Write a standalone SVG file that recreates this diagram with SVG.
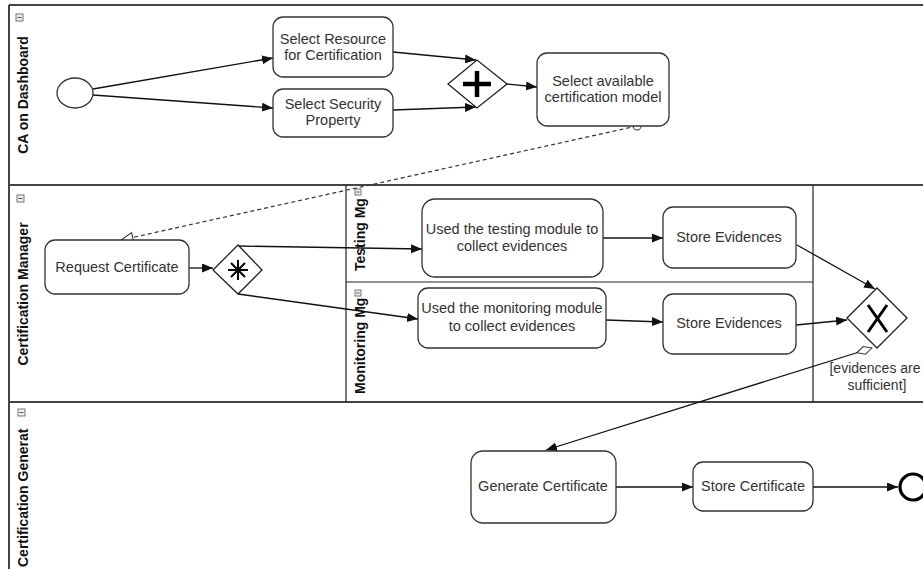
<svg xmlns="http://www.w3.org/2000/svg" width="923" height="569" viewBox="0 0 923 569">
<style>
.lane{stroke:#444;stroke-width:2;fill:none}
.sub{stroke:#222;stroke-width:1.2;fill:none}
.task{fill:#fff;stroke:#333;stroke-width:1.3}
.gw{fill:#fff;stroke:#222;stroke-width:1.3}
.t{font-family:"Liberation Sans",Arial,sans-serif;font-size:14.5px;fill:#333;text-anchor:middle}
.lbl{font-family:"Liberation Sans",Arial,sans-serif;font-size:14px;font-weight:bold;fill:#111}
.flow{stroke:#111;stroke-width:1.3;fill:none;marker-end:url(#arr)}
.icon{fill:#eee;stroke:#777;stroke-width:1}
</style>
<defs>
<marker id="arr" markerUnits="userSpaceOnUse" markerWidth="12" markerHeight="10" refX="11" refY="4.5" orient="auto"><path d="M0,0 L11,4.5 L0,9 z" fill="#111"/></marker>
<marker id="open" markerUnits="userSpaceOnUse" markerWidth="14" markerHeight="12" refX="13" refY="5.5" orient="auto"><path d="M1,0.5 L13,5.5 L1,10.5 z" fill="#fff" stroke="#333" stroke-width="1"/></marker>
<marker id="circ" markerUnits="userSpaceOnUse" markerWidth="12" markerHeight="12" refX="6" refY="6" orient="auto"><circle cx="6" cy="6" r="4" fill="#fff" stroke="#333" stroke-width="1"/></marker>
<marker id="dia" markerUnits="userSpaceOnUse" markerWidth="18" markerHeight="10" refX="1" refY="4.5" orient="auto"><path d="M1,4.5 L9,0.5 L17,4.5 L9,8.5 z" fill="#fff" stroke="#333" stroke-width="1"/></marker>
</defs>

<g id="pool">
<line class="lane" x1="9" y1="5" x2="923" y2="5"/>
<line class="lane" x1="9" y1="5" x2="9" y2="569"/>
<line class="lane" x1="9" y1="185" x2="923" y2="185"/>
<line class="lane" x1="9" y1="402" x2="923" y2="402"/>
<line class="sub" x1="346" y1="185" x2="346" y2="402"/>
<line class="sub" x1="813" y1="185" x2="813" y2="402"/>
<line class="sub" x1="346" y1="282" x2="813" y2="282"/>
</g>

<g id="lane-ca">
<rect class="icon" x="16" y="14" width="7" height="7"/><line x1="17.5" y1="17.5" x2="21.5" y2="17.5" stroke="#555"/>
<text class="lbl" transform="translate(28,95) rotate(-90)" text-anchor="middle">CA on Dashboard</text>
</g>
<g id="lane-cm">
<rect class="icon" x="17" y="195" width="7" height="7"/><line x1="18.5" y1="198.5" x2="22.5" y2="198.5" stroke="#555"/>
<text class="lbl" transform="translate(28,294) rotate(-90)" text-anchor="middle">Certification Manager</text>
</g>
<g id="lane-testing">
<text class="lbl" transform="translate(365,271) rotate(-90)">Testing Mg</text>
<rect class="icon" x="355" y="189" width="6" height="6"/><line x1="356.5" y1="192" x2="359.5" y2="192" stroke="#555"/>
</g>
<g id="lane-monitoring">
<text class="lbl" transform="translate(365,394) rotate(-90)">Monitoring Mg</text>
<rect class="icon" x="355" y="290" width="6" height="6"/><line x1="356.5" y1="293" x2="359.5" y2="293" stroke="#555"/>
</g>
<g id="lane-cg">
<text class="lbl" transform="translate(28,567) rotate(-90)">Certification Generat</text>
<rect class="icon" x="18" y="409" width="7" height="7"/><line x1="19.5" y1="412.5" x2="23.5" y2="412.5" stroke="#555"/>
</g>

<g id="connectors">
<line class="flow" x1="93" y1="89" x2="273" y2="58"/>
<line class="flow" x1="93" y1="95" x2="273" y2="108"/>
<line class="flow" x1="393" y1="52" x2="476" y2="60"/>
<line class="flow" x1="393" y1="110" x2="476" y2="107"/>
<line class="flow" x1="507" y1="84" x2="537" y2="87"/>
<line x1="637" y1="126" x2="121" y2="240" stroke="#333" stroke-width="1.2" stroke-dasharray="4,3" fill="none" marker-start="url(#circ)" marker-end="url(#open)"/>
<line class="flow" x1="189" y1="268" x2="213" y2="268"/>
<line class="flow" x1="238" y1="246" x2="422" y2="249"/>
<line class="flow" x1="238" y1="294" x2="418" y2="319"/>
<line class="flow" x1="603" y1="238" x2="663" y2="238"/>
<line class="flow" x1="606" y1="320" x2="663" y2="322"/>
<line class="flow" x1="797" y1="245" x2="875" y2="289"/>
<line class="flow" x1="796" y1="325" x2="847" y2="320"/>
<line class="flow" x1="872" y1="348" x2="546" y2="450" marker-start="url(#dia)"/>
<line class="flow" x1="616" y1="487" x2="693" y2="487"/>
<line class="flow" x1="813" y1="487" x2="898" y2="487"/>
</g>

<g id="start"><ellipse cx="75" cy="93" rx="18" ry="15" fill="#fff" stroke="#333" stroke-width="1.3"/></g>

<g id="task-resource">
<rect class="task" x="273" y="17" width="120" height="60" rx="10"/>
<text class="t" x="333" y="44">Select Resource</text>
<text class="t" x="333" y="60">for Certification</text>
</g>
<g id="task-property">
<rect class="task" x="273" y="89" width="120" height="48" rx="10"/>
<text class="t" x="333" y="109">Select Security</text>
<text class="t" x="333" y="125">Property</text>
</g>
<g id="gw-parallel">
<path class="gw" d="M448,84 L477,60 L507,84 L477,108 z"/>
<path d="M463,84 H491 M477,71 V97" stroke="#000" stroke-width="4.5"/>
</g>
<g id="task-model">
<rect class="task" x="537" y="53" width="132" height="73" rx="10"/>
<text class="t" x="603" y="86">Select available</text>
<text class="t" x="603" y="102">certification model</text>
</g>
<g id="task-request">
<rect class="task" x="45" y="240" width="144" height="54" rx="10"/>
<text class="t" x="117" y="272">Request Certificate</text>
</g>
<g id="gw-complex">
<path class="gw" d="M213,270 L238,245 L262,270 L238,294 z"/>
<path d="M228,270 H248 M238,260 V280 M231,263 L245,277 M245,263 L231,277" stroke="#000" stroke-width="2"/>
</g>
<g id="task-testing">
<rect class="task" x="422" y="199" width="181" height="78" rx="13"/>
<text class="t" x="512" y="234">Used the testing module to</text>
<text class="t" x="512" y="251">collect evidences</text>
</g>
<g id="task-monitoring">
<rect class="task" x="418" y="288" width="188" height="60" rx="10"/>
<text class="t" x="512" y="313">Used the monitoring module</text>
<text class="t" x="512" y="331">to collect evidences</text>
</g>
<g id="task-store1">
<rect class="task" x="663" y="207" width="133" height="61" rx="10"/>
<text class="t" x="729" y="242">Store Evidences</text>
</g>
<g id="task-store2">
<rect class="task" x="663" y="294" width="133" height="60" rx="10"/>
<text class="t" x="729" y="328">Store Evidences</text>
</g>
<g id="gw-xor">
<path class="gw" d="M847,318 L877,288 L907,318 L877,348 z"/>
<path d="M868,305 L887,332 M887,305 L868,332" stroke="#000" stroke-width="3"/>
<text class="t" x="875" y="373" style="font-size:14px">[evidences are</text>
<text class="t" x="877" y="390" style="font-size:14px">sufficient]</text>
</g>
<g id="task-generate">
<rect class="task" x="471" y="451" width="145" height="72" rx="12"/>
<text class="t" x="543" y="491">Generate Certificate</text>
</g>
<g id="task-storecert">
<rect class="task" x="693" y="462" width="120" height="49" rx="10"/>
<text class="t" x="753" y="491">Store Certificate</text>
</g>
<g id="end"><circle cx="913" cy="487" r="13" fill="#fff" stroke="#000" stroke-width="3.2"/></g>
</svg>
